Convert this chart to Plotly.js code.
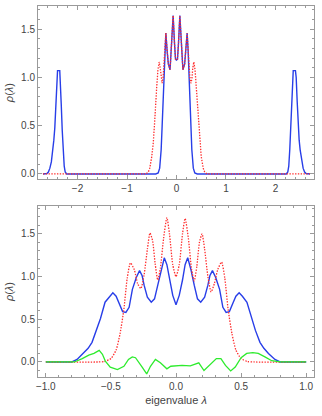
<!DOCTYPE html>
<html>
<head>
<meta charset="utf-8">
<script src="https://cdn.plot.ly/plotly-3.0.1.min.js"></script>
<style>
  html, body { margin: 0; padding: 0; background: #fff; }
  #chart { width: 322px; height: 416px; }
</style>
</head>
<body>
<div id="chart"></div>
<script>
// top panel: full spectrum
const topBlueX = [-2.70, -2.62, -2.59, -2.56, -2.53, -2.50, -2.48, -2.46, -2.44, -2.42, -2.405, -2.36, -2.345, -2.33, -2.31, -2.29, -2.27, -2.25, -2.22,
  -0.42, -0.37, -0.34, -0.31, -0.29, -0.27, -0.25, -0.235, -0.215, -0.19, -0.165, -0.13, -0.10, -0.068, -0.04, -0.02, 0,
  0.02, 0.04, 0.068, 0.10, 0.13, 0.165, 0.19, 0.215, 0.235, 0.25, 0.27, 0.29, 0.31, 0.34, 0.37, 0.42,
  2.22, 2.25, 2.27, 2.29, 2.31, 2.33, 2.345, 2.36, 2.405, 2.42, 2.44, 2.46, 2.48, 2.50, 2.53, 2.56, 2.59, 2.62, 2.70];
const topBlueY = [0, 0.005, 0.02, 0.06, 0.125, 0.25, 0.35, 0.48, 0.75, 1.0, 1.07, 1.07, 0.95, 0.72, 0.45, 0.25, 0.08, 0.02, 0,
  0, 0.01, 0.06, 0.25, 0.5, 0.77, 1.05, 1.28, 1.46, 1.28, 1.14, 1.08, 1.35, 1.64, 1.35, 1.19, 1.18,
  1.19, 1.35, 1.64, 1.35, 1.08, 1.14, 1.28, 1.46, 1.28, 1.05, 0.77, 0.5, 0.25, 0.06, 0.01, 0,
  0, 0.02, 0.08, 0.25, 0.45, 0.72, 0.95, 1.07, 1.07, 1.0, 0.75, 0.48, 0.35, 0.25, 0.125, 0.06, 0.02, 0.005, 0];

const topRedX = [-2.70, -0.62, -0.57, -0.54, -0.50, -0.47, -0.44, -0.42, -0.40, -0.375, -0.35, -0.33, -0.31, -0.29, -0.27, -0.25, -0.235, -0.215,
  -0.19, -0.165, -0.13, -0.10, -0.068, -0.04, -0.02, 0, 0.02, 0.04, 0.068, 0.10, 0.13, 0.165, 0.19,
  0.215, 0.235, 0.25, 0.27, 0.29, 0.31, 0.33, 0.35, 0.375, 0.40, 0.42, 0.44, 0.47, 0.50, 0.54, 0.57, 0.62, 2.70];
const topRedY = [0, 0, 0.02, 0.06, 0.18, 0.32, 0.55, 0.77, 0.9, 1.08, 1.16, 1.1, 0.98, 0.94, 1.0, 1.15, 1.3, 1.46,
  1.28, 1.14, 1.08, 1.35, 1.64, 1.35, 1.19, 1.18, 1.19, 1.35, 1.64, 1.35, 1.08, 1.14, 1.28,
  1.46, 1.3, 1.15, 1.0, 0.94, 0.98, 1.1, 1.16, 1.08, 0.9, 0.77, 0.55, 0.32, 0.18, 0.06, 0.02, 0, 0];

// bottom panel: zoom on the bulk
const botBlueX = [-1.0, -0.8, -0.76, -0.71, -0.675, -0.645, -0.61, -0.58, -0.545, -0.51, -0.485, -0.46, -0.44, -0.41, -0.385, -0.36, -0.335, -0.305, -0.28, -0.26, -0.245, -0.22, -0.19, -0.165, -0.14, -0.115, -0.09, -0.07, -0.05, -0.025, 0,
  0.025, 0.05, 0.07, 0.09, 0.115, 0.14, 0.165, 0.19, 0.22, 0.245, 0.26, 0.28, 0.305, 0.335, 0.36, 0.385, 0.41, 0.44, 0.46, 0.485, 0.51, 0.545, 0.58, 0.61, 0.645, 0.675, 0.71, 0.76, 0.8, 1.0];
const botBlueY = [0, 0, 0.03, 0.10, 0.16, 0.23, 0.37, 0.51, 0.70, 0.77, 0.81, 0.77, 0.70, 0.59, 0.58, 0.64, 0.85, 0.99, 1.07, 1.01, 0.90, 0.76, 0.70, 0.74, 0.90, 1.08, 1.22, 1.14, 0.96, 0.78, 0.67,
  0.78, 0.96, 1.14, 1.22, 1.08, 0.90, 0.74, 0.70, 0.76, 0.90, 1.01, 1.07, 0.99, 0.85, 0.64, 0.58, 0.59, 0.70, 0.77, 0.81, 0.77, 0.70, 0.51, 0.37, 0.23, 0.16, 0.10, 0.03, 0, 0];

const botRedX = [-1.0, -0.6, -0.55, -0.5, -0.46, -0.43, -0.40, -0.375, -0.35, -0.32, -0.295, -0.27, -0.245, -0.22, -0.2, -0.18, -0.16, -0.14, -0.12, -0.095, -0.07, -0.05, -0.025, 0,
  0.025, 0.05, 0.07, 0.095, 0.12, 0.14, 0.16, 0.18, 0.2, 0.22, 0.245, 0.27, 0.295, 0.32, 0.35, 0.375, 0.40, 0.43, 0.46, 0.5, 0.55, 0.6, 1.0];
const botRedY = [0, 0, 0.005, 0.04, 0.14, 0.33, 0.62, 0.98, 1.16, 1.08, 0.92, 0.86, 1.02, 1.32, 1.51, 1.42, 1.15, 0.96, 1.1, 1.45, 1.69, 1.5, 1.14, 1.0,
  1.14, 1.5, 1.68, 1.45, 1.08, 0.95, 1.12, 1.4, 1.5, 1.32, 1.0, 0.82, 0.92, 1.08, 1.17, 0.98, 0.62, 0.33, 0.14, 0.04, 0.005, 0, 0];

const botGreenX = [-1.0, -0.78, -0.72, -0.67, -0.63, -0.59, -0.565, -0.543, -0.505, -0.45, -0.40, -0.365, -0.336, -0.311, -0.26, -0.225, -0.196, -0.158, -0.12, -0.07, -0.04, 0.046, 0.11, 0.14, 0.175, 0.215, 0.262, 0.31, 0.345, 0.38, 0.42, 0.455, 0.50, 0.543, 0.59, 0.632, 0.683, 0.735, 0.8, 1.0];
const botGreenY = [0, 0, 0.04, 0.08, 0.10, 0.135, 0.09, 0.01, -0.06, -0.09, -0.05, 0.03, 0.06, 0.05, -0.06, -0.14, -0.05, 0.03, -0.01, -0.08, -0.05, -0.04, -0.045, -0.03, -0.01, -0.10, -0.03, 0.04, 0.04, -0.04, -0.105, -0.06, 0.05, 0.10, 0.11, 0.10, 0.06, 0.015, 0, 0];

const BLUE = 'rgb(40,62,232)';
const RED = 'rgb(255,45,45)';
const GREEN = 'rgb(45,235,45)';
const FRAME = '#9a9a9a';
const FONT = 'Liberation Sans, Arial, sans-serif';
const DOTS = '1.4px,1.4px';

const traces = [
  { x: topBlueX, y: topBlueY, xaxis: 'x2', yaxis: 'y2', type: 'scatter', mode: 'lines',
    line: { color: BLUE, width: 1.4 }, hoverinfo: 'skip' },
  { x: topRedX, y: topRedY, xaxis: 'x2', yaxis: 'y2', type: 'scatter', mode: 'lines',
    line: { color: RED, width: 1.3, dash: DOTS }, hoverinfo: 'skip' },
  { x: botBlueX, y: botBlueY, xaxis: 'x', yaxis: 'y', type: 'scatter', mode: 'lines',
    line: { color: BLUE, width: 1.4 }, hoverinfo: 'skip' },
  { x: botRedX, y: botRedY, xaxis: 'x', yaxis: 'y', type: 'scatter', mode: 'lines',
    line: { color: RED, width: 1.3, dash: DOTS, shape: 'spline', smoothing: 0.6 }, hoverinfo: 'skip' },
  { x: botGreenX, y: botGreenY, xaxis: 'x', yaxis: 'y', type: 'scatter', mode: 'lines',
    line: { color: GREEN, width: 1.3 }, hoverinfo: 'skip' }
];

// Mathematica-like frame: ticks inside on every side
function frameAxis(extra) {
  return Object.assign({
    showline: true, linecolor: FRAME, linewidth: 1, mirror: 'ticks',
    ticks: 'inside', ticklen: 4, tickcolor: FRAME, tickwidth: 1,
    showgrid: false, zeroline: false, fixedrange: true,
    tickfont: { family: FONT, size: 10, color: '#444' }
  }, extra);
}

const yTitle = { text: '<i>ρ</i>(<i>λ</i>)', font: { family: FONT, size: 11, color: '#444' }, standoff: 5 };

const layout = {
  width: 322, height: 416,
  margin: { l: 38, r: 8, t: 6, b: 39 },
  paper_bgcolor: '#fff', plot_bgcolor: '#fff',
  showlegend: false,
  xaxis: frameAxis({
    domain: [0, 1], anchor: 'y', range: [-1.06, 1.06], dtick: 0.5, tick0: 0, tickformat: '.1f',
    minor: { dtick: 0.1, ticks: 'inside', ticklen: 2, tickcolor: FRAME },
    title: { text: 'eigenvalue <i>λ</i>', font: { family: FONT, size: 11, color: '#444' }, standoff: 5 }
  }),
  yaxis: frameAxis({
    domain: [0, 0.4605], anchor: 'x', range: [-0.176, 1.825], dtick: 0.5, tick0: 0, tickformat: '.1f',
    minor: { dtick: 0.1, ticks: 'inside', ticklen: 2, tickcolor: FRAME },
    title: yTitle
  }),
  xaxis2: frameAxis({
    domain: [0, 1], anchor: 'y2', range: [-2.8, 2.78], dtick: 1, tick0: 0,
    minor: { dtick: 0.2, ticks: 'inside', ticklen: 2, tickcolor: FRAME }
  }),
  yaxis2: frameAxis({
    domain: [0.533, 1], anchor: 'x2', range: [-0.055, 1.74], dtick: 0.5, tick0: 0, tickformat: '.1f',
    minor: { dtick: 0.1, ticks: 'inside', ticklen: 2, tickcolor: FRAME },
    title: yTitle
  })
};

Plotly.newPlot('chart', traces, layout, { staticPlot: true, displayModeBar: false });
</script>
</body>
</html>
